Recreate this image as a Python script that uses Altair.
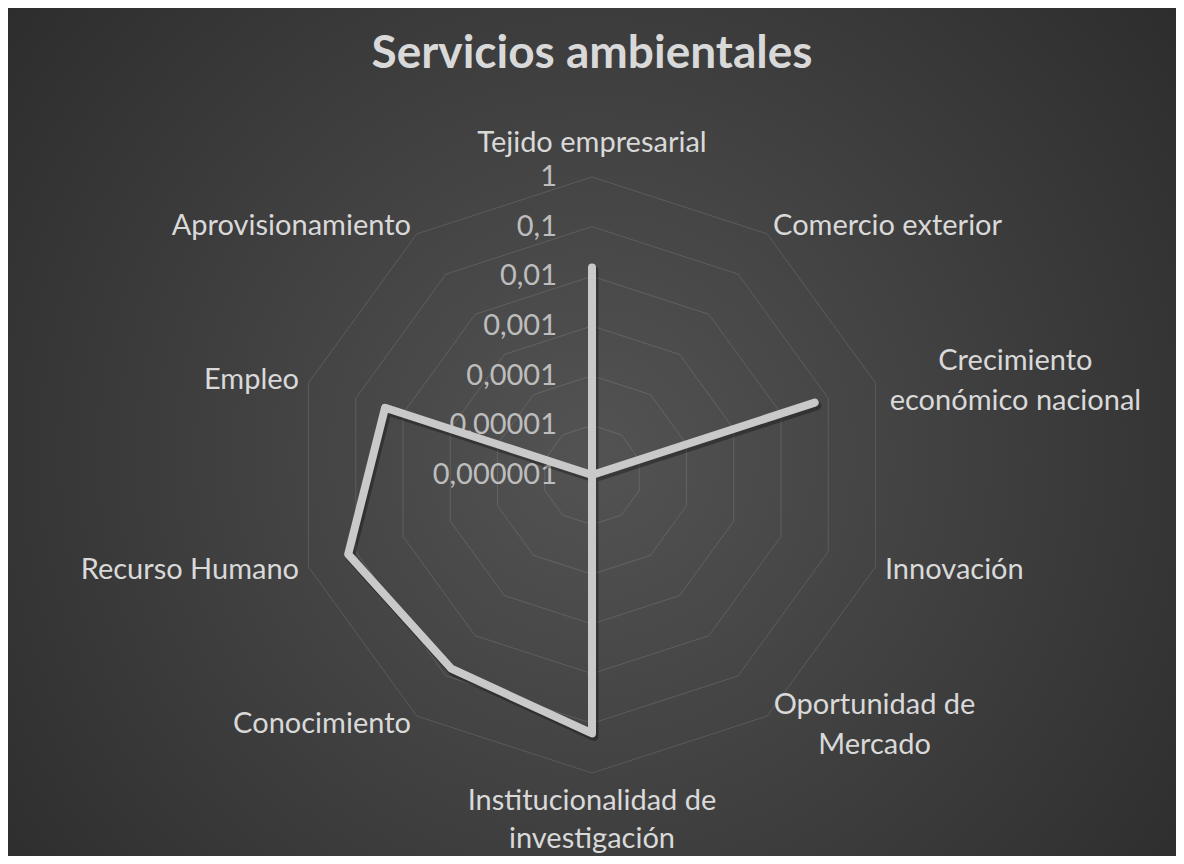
import altair as alt
import pandas as pd

# ---------------- data ----------------
title = "Servicios ambientales"
categories = [
    "Tejido empresarial",
    "Comercio exterior",
    "Crecimiento\necon\u00f3mico nacional",
    "Innovaci\u00f3n",
    "Oportunidad de\nMercado",
    "Institucionalidad de\ninvestigaci\u00f3n",
    "Conocimiento",
    "Recurso Humano",
    "Empleo",
    "Aprovisionamiento",
]
values = [0.015, 0, 0.052, 0, 0, 0.16, 0.066, 0.145, 0.024, 0]
tick_values = [0.000001, 0.00001, 0.0001, 0.001, 0.01, 0.1, 1]
tick_labels = ["0,000001", "0,00001", "0,0001", "0,001", "0,01", "0,1", "1"]

# ---------------- layout constants ----------------
N = len(categories)
W, H = 1168, 848
S = 49.67            # pixels per decade
CX, CY = 584, 467    # centre of the radar in chart pixels
FONT = "Lato"
FS = 29
LH = 40
xs = alt.Scale(domain=[-CX / S, (W - CX) / S], nice=False, zero=False)
ys = alt.Scale(domain=[-(H - CY) / S, CY / S], nice=False, zero=False)
RMAX = 6.0
LAB_R = RMAX + 10 / S

def X(f="px"):
    return alt.X(f + ":Q", scale=xs, axis=None)

def Y(f="py"):
    return alt.Y(f + ":Q", scale=ys, axis=None)

# ---------------- tables ----------------
series = pd.DataFrame({
    "i": list(range(N)) + [0],
    "o": list(range(N + 1)),
    "value": values + [values[0]],
})

rings = pd.DataFrame([
    {"ring": t, "i": j % N, "o": j}
    for t in tick_values[1:] for j in range(N + 1)
])

ticks = pd.DataFrame({"v": tick_values, "lab": tick_labels})

def side(i):
    if i == 0:
        return "top"
    if i * 2 == N:
        return "bottom"
    if i < N / 2:
        return "right_multi" if "\n" in categories[i] else "right"
    return "left"

labs = pd.DataFrame({
    "i": list(range(N)),
    "cat": categories,
    "side": [side(i) for i in range(N)],
    "half": [max(len(s) for s in c.split("\n")) * 0.5 * FS / 2 / S for c in categories],
})

# ---------------- layers ----------------
bg = alt.Chart(pd.DataFrame({"a": [0]})).mark_rect(
    color={
        "gradient": "radial",
        "x1": 0.5, "y1": 0.52, "r1": 0,
        "x2": 0.5, "y2": 0.52, "r2": 0.78,
        "stops": [
            {"offset": 0, "color": "#535353"},
            {"offset": 1, "color": "#242424"},
        ],
    }
).encode(x=alt.value(0), x2=alt.value(W), y=alt.value(0), y2=alt.value(H))

grid = alt.Chart(rings).transform_calculate(
    ang=f"datum.i*2*PI/{N}",
    r="log(datum.ring)/LN10 + 6",
    px="datum.r*sin(datum.ang)",
    py="datum.r*cos(datum.ang)",
).mark_line(color="#ffffff", strokeOpacity=0.12, strokeWidth=1).encode(
    x=X(), y=Y(), detail="ring:N", order="o:Q"
)

tick_text = alt.Chart(ticks).transform_calculate(
    px="0", py="log(datum.v)/LN10 + 6"
).mark_text(
    align="right", baseline="middle", dx=-35, font=FONT, fontSize=FS, color="#bdbdbd"
).encode(x=X(), y=Y(), text="lab:N")

series_base = alt.Chart(series).transform_calculate(
    ang=f"datum.i*2*PI/{N}",
    r="datum.value > 0 ? max(0, log(datum.value)/LN10 + 6) : 0",
    px="datum.r*sin(datum.ang)",
    py="datum.r*cos(datum.ang)",
)

shadow = series_base.transform_calculate(
    sx=f"datum.px + {2 / S}", sy=f"datum.py - {3 / S}"
).mark_line(
    color="#000000", opacity=0.3, strokeWidth=9, strokeCap="round", strokeJoin="round"
).encode(x=X("sx"), y=Y("sy"), order="o:Q")

line = series_base.mark_line(
    color="#c9c9c9", strokeWidth=8, strokeCap="round", strokeJoin="round"
).encode(x=X(), y=Y(), order="o:Q")

lab_base = alt.Chart(labs).transform_calculate(
    ang=f"datum.i*2*PI/{N}",
    px=f"{LAB_R}*sin(datum.ang)",
    py=f"{LAB_R}*cos(datum.ang)",
)
txt = dict(font=FONT, fontSize=FS, color="#d9d9d9", lineBreak="\n")

lab_top = lab_base.transform_filter("datum.side == 'top'").mark_text(
    align="center", baseline="alphabetic", dy=-15, lineHeight=LH, **txt
).encode(x=X(), y=Y(), text="cat:N")

lab_bottom = lab_base.transform_filter("datum.side == 'bottom'").mark_text(
    align="center", baseline="top", dy=4, lineHeight=38, **txt
).encode(x=X(), y=Y(), text="cat:N")

lab_right = lab_base.transform_filter("datum.side == 'right'").mark_text(
    align="left", baseline="middle", lineHeight=LH, **txt
).encode(x=X(), y=Y(), text="cat:N")

lab_right_multi = lab_base.transform_filter("datum.side == 'right_multi'").transform_calculate(
    qx="datum.px + datum.half"
).mark_text(
    align="center", baseline="middle", dy=-LH / 2 + 1, lineHeight=LH, **txt
).encode(x=X("qx"), y=Y(), text="cat:N")

lab_left = lab_base.transform_filter("datum.side == 'left'").mark_text(
    align="right", baseline="middle", lineHeight=LH, **txt
).encode(x=X(), y=Y(), text="cat:N")

title_mark = alt.Chart(pd.DataFrame({"t": [title]})).mark_text(
    font=FONT, fontSize=46, fontWeight="bold", color="#d9d9d9",
    align="center", baseline="alphabetic"
).encode(x=alt.value(CX), y=alt.value(60), text="t:N")

chart = alt.layer(
    bg, grid, tick_text, shadow, line,
    lab_top, lab_bottom, lab_right, lab_right_multi, lab_left, title_mark
).properties(
    width=W, height=H, padding=0, background="#262626",
    autosize=alt.AutoSizeParams(type="none")
).configure_view(stroke=None)

chart.save("out.html", embed_options={"renderer": "svg", "actions": False})
